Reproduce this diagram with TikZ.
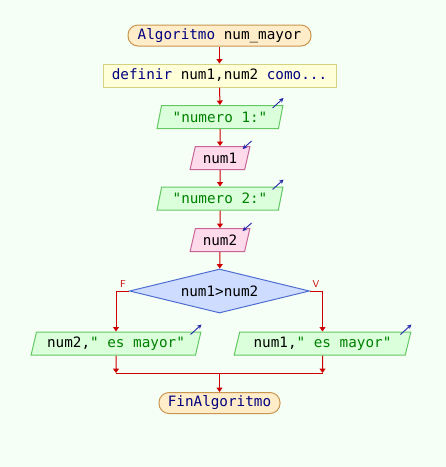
\documentclass[tikz,border=0pt]{standalone}
\usepackage{fontspec}
\setmonofont{DejaVu Sans Mono}
\usepackage{xcolor}
\usetikzlibrary{arrows.meta,positioning,calc,shapes.geometric}

\definecolor{bgpaper}{RGB}{245,255,245}
\definecolor{flowred}{RGB}{204,0,0}
\definecolor{kwblue}{RGB}{0,0,128}
\definecolor{strgreen}{RGB}{0,128,0}
\definecolor{iconblue}{RGB}{40,40,170}
\definecolor{termfill}{RGB}{255,236,200}
\definecolor{termdraw}{RGB}{200,150,80}
\definecolor{deffill}{RGB}{255,255,218}
\definecolor{defdraw}{RGB}{210,210,130}
\definecolor{outfill}{RGB}{218,255,218}
\definecolor{outdraw}{RGB}{100,200,100}
\definecolor{infill}{RGB}{255,218,235}
\definecolor{indraw}{RGB}{200,100,150}
\definecolor{condfill}{RGB}{205,220,255}
\definecolor{conddraw}{RGB}{80,110,210}

\tikzset{
  code/.style={font=\ttfamily\fontsize{14.3}{16}\selectfont, inner sep=0pt},
  terminal/.style={code, rounded corners=10pt, draw=termdraw, fill=termfill, line width=1pt, minimum height=21pt},
  defbox/.style={code, draw=defdraw, fill=deffill, line width=1pt, minimum height=23pt, minimum width=233pt},
  iobox/.style={code, trapezium, trapezium left angle=71, trapezium right angle=109, trapezium stretches=true, line width=1pt, minimum height=23pt},
  writebox/.style={iobox, draw=outdraw, fill=outfill, text=strgreen},
  readbox/.style={iobox, draw=indraw, fill=infill},
  condbox/.style={code, diamond, aspect=4.1, draw=conddraw, fill=condfill, line width=1pt, minimum width=180pt, minimum height=44pt},
  flow/.style={draw=flowred, line width=1pt, -{Triangle[width=6pt,length=4.5pt]}},
  plainflow/.style={draw=flowred, line width=1pt},
  iconarrow/.style={draw=iconblue, line width=0.9pt, -{Stealth[length=4.5pt,width=4.5pt]}},
  branch/.style={text=flowred, font=\sffamily\fontsize{10}{10}\selectfont, inner sep=0pt}
}

\newcommand{\writeicon}[1]{\draw[iconarrow] ($(#1.top right corner)+(-11,3)$) -- ++(11,-10);}
\newcommand{\readicon}[1]{\draw[iconarrow] ($(#1.top right corner)+(1,-5)$) -- ++(-9,8);}

\begin{document}
\begin{tikzpicture}[x=1pt,y=-1pt]
% Paper
\fill[bgpaper] (0,0) rectangle (446,467);
\useasboundingbox (0,0) rectangle (446,467);
% Blocks
\node[terminal, minimum width=183pt] (start) at (219.5,35.5) {\textcolor{kwblue}{Algoritmo} num\_mayor};
\node[defbox] (defn) at (219.5,75.5) {\textcolor{kwblue}{definir} num1,num2 \textcolor{kwblue}{como...}};
\node[writebox, minimum width=126pt] (msg1) at (220,117) {"numero 1:"};
\node[readbox, minimum width=60pt] (read1) at (220,158) {num1};
\node[writebox, minimum width=126pt] (msg2) at (220,198.5) {"numero 2:"};
\node[readbox, minimum width=60pt] (read2) at (220,240) {num2};
\node[condbox] (cond) at (219.5,291) {num1>num2};
\node[writebox, minimum width=170pt] (showF) at (116,343.5) {\textcolor{black}{num2,}" es mayor"};
\node[writebox, minimum width=177pt] (showV) at (322.5,343.5) {\textcolor{black}{num1,}" es mayor"};
\node[terminal, minimum width=121pt] (stop) at (219.5,403) {\textcolor{kwblue}{FinAlgoritmo}};
% I/O marks
\writeicon{msg1}
\readicon{read1}
\writeicon{msg2}
\readicon{read2}
\writeicon{showF}
\writeicon{showV}
% Branch labels
\node[branch] (lblF) at (123,284.5) {F};
\node[branch] (lblV) at (316,284.5) {V};
% Join point
\coordinate (joinF) at (showF.south |- 0,373);
\coordinate (joinV) at (showV.south |- 0,373);
\coordinate (joinM) at (stop.north |- 0,373);
% Connectors
\draw[flow] (start) -- (defn);
\draw[flow] (defn) -- (msg1);
\draw[flow] (msg1) -- (read1);
\draw[flow] (read1) -- (msg2);
\draw[flow] (msg2) -- (read2);
\draw[flow] (read2) -- (cond);
\draw[flow] (cond.west) -| (showF.north);
\draw[flow] (cond.east) -| (showV.north);
\draw[flow] (showF) -- (joinF);
\draw[flow] (showV) -- (joinV);
\draw[plainflow] (joinF) -- (joinV);
\draw[flow] (joinM) -- (stop);
\end{tikzpicture}
\end{document}
